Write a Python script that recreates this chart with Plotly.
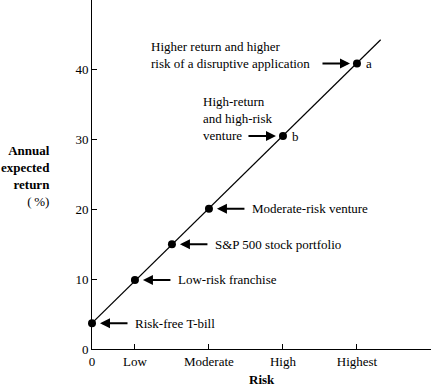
import plotly.graph_objects as go

# Data
tick_vals = [0, 0.58, 1.58, 2.58, 3.58]
tick_text = ["0", "Low", "Moderate", "High", "Highest"]
risk = [0, 0.58, 1.08, 1.58, 2.58, 3.58]
expected_return = [3.7, 9.9, 15.0, 20.1, 30.5, 40.9]
labels = ["Risk-free T-bill", "Low-risk franchise", "S&P 500 stock portfolio",
          "Moderate-risk venture", "High-return<br>and high-risk<br>venture",
          "Higher return and higher<br>risk of a disruptive application"]
point_letters = ["", "", "", "", "b", "a"]
line_x = [0, 3.9]
line_y = [3.7, 44.3]

FONT = "Liberation Serif"

fig = go.Figure()
fig.add_trace(go.Scatter(x=line_x, y=line_y, mode="lines",
                         line=dict(color="black", width=1.2), hoverinfo="skip"))
fig.add_trace(go.Scatter(x=risk, y=expected_return, mode="markers",
                         marker=dict(color="black", size=8), hoverinfo="skip",
                         cliponaxis=False))

ann = []
for i, (x, y, lab, let) in enumerate(zip(risk, expected_return, labels, point_letters)):
    if i < 4:
        ann.append(dict(x=x, y=y, xref="x", yref="y", text="", showarrow=True,
                        ax=37, ay=0, standoff=8, arrowhead=2, arrowsize=1,
                        arrowwidth=2, arrowcolor="black"))
        ann.append(dict(x=x, y=y, xref="x", yref="y", text=lab, showarrow=False,
                        xanchor="left", yanchor="middle", xshift=41))
    else:
        ann.append(dict(x=x, y=y, xref="x", yref="y", text="", showarrow=True,
                        ax=-36, ay=0, standoff=7, arrowhead=2, arrowsize=1,
                        arrowwidth=2, arrowcolor="black"))
        xs = -82 if let == "b" else -208
        ann.append(dict(x=x, y=y, xref="x", yref="y", text=lab, showarrow=False,
                        xanchor="left", yanchor="bottom", align="left",
                        xshift=xs, yshift=-9))
        ann.append(dict(x=x, y=y, xref="x", yref="y", text=let, showarrow=False,
                        xanchor="left", yanchor="middle", xshift=7))

ann.append(dict(xref="paper", yref="paper", x=0, y=0.497, xshift=-40,
                xanchor="right", yanchor="middle", align="right", showarrow=False,
                text="<b>Annual<br>expected<br>return</b><br>(\u2009%)"))
ann.append(dict(xref="paper", yref="paper", x=0.5, y=0, yshift=-30,
                xanchor="center", yanchor="middle", showarrow=False,
                text="<b>Risk</b>"))

fig.update_layout(
    width=431, height=387,
    margin=dict(l=92, r=0, t=0, b=38),
    paper_bgcolor="white", plot_bgcolor="white",
    showlegend=False,
    font=dict(family=FONT, size=13, color="black"),
    annotations=ann,
)
fig.update_xaxes(range=[0, 4.58], tickvals=tick_vals, ticktext=tick_text,
                 showline=True, linecolor="black", linewidth=1,
                 ticks="inside", ticklen=5, tickcolor="black",
                 showgrid=False, zeroline=False, fixedrange=True)
fig.update_yaxes(range=[0, 50], tickvals=[0, 10, 20, 30, 40, 50],
                 ticktext=["0", "10", "20", "30", "40", ""],
                 showline=True, linecolor="black", linewidth=1,
                 ticks="inside", ticklen=5, tickcolor="black",
                 showgrid=False, zeroline=False, fixedrange=True)

fig.write_html("out.html", config={"displayModeBar": False},
               post_script="document.body.style.margin='0';document.body.style.padding='0';")
